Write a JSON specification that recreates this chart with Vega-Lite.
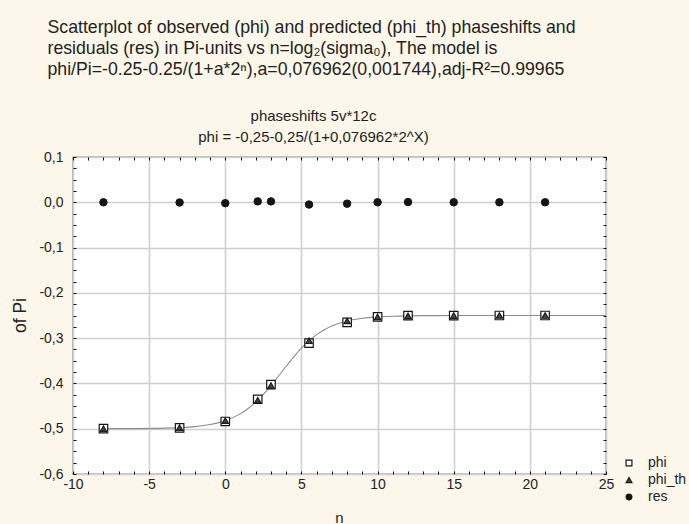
{
  "$schema": "https://vega.github.io/schema/vega-lite/v6.json",
  "autosize": "none",
  "width": 533,
  "height": 317,
  "padding": {"left": 73, "top": 157, "right": 83, "bottom": 50},
  "background": "#fdf7eb",
  "config": {
    "font": "Liberation Sans",
    "view": {"fill": "#ffffff", "stroke": "#111111", "strokeWidth": 1.2}
  },
  "title": {
    "text": [
      "Scatterplot of observed (phi) and predicted (phi_th) phaseshifts and",
      "residuals (res) in Pi-units vs n=log₂(sigma₀), The model is",
      "phi/Pi=-0.25-0.25/(1+a*2ⁿ),a=0,076962(0,001744),adj-R²=0.99965"
    ],
    "anchor": "start",
    "frame": "group",
    "font": "Liberation Sans",
    "fontSize": 17.7,
    "fontWeight": "normal",
    "color": "#222222",
    "lineHeight": 21,
    "dx": -25.5,
    "offset": 30
  },
  "datasets": {
    "fit": [
      {"n": -8, "phi": -0.4999},
      {"n": -6, "phi": -0.4997},
      {"n": -4, "phi": -0.4988},
      {"n": -2, "phi": -0.4953},
      {"n": -1, "phi": -0.4907},
      {"n": 0, "phi": -0.4821},
      {"n": 1, "phi": -0.4667},
      {"n": 1.5, "phi": -0.4553},
      {"n": 2, "phi": -0.4412},
      {"n": 2.5, "phi": -0.4242},
      {"n": 3, "phi": -0.4047},
      {"n": 3.5, "phi": -0.3836},
      {"n": 4, "phi": -0.362},
      {"n": 4.5, "phi": -0.3412},
      {"n": 5, "phi": -0.3222},
      {"n": 5.5, "phi": -0.3058},
      {"n": 6, "phi": -0.2922},
      {"n": 6.5, "phi": -0.2814},
      {"n": 7, "phi": -0.273},
      {"n": 8, "phi": -0.2621},
      {"n": 9, "phi": -0.2562},
      {"n": 10, "phi": -0.2531},
      {"n": 11, "phi": -0.2516},
      {"n": 12, "phi": -0.2508},
      {"n": 14, "phi": -0.2502},
      {"n": 17, "phi": -0.25},
      {"n": 25, "phi": -0.25}
    ],
    "points": [
      {"n": -8, "series": "phi", "value": -0.5},
      {"n": -3, "series": "phi", "value": -0.498},
      {"n": 0, "series": "phi", "value": -0.484},
      {"n": 2.13, "series": "phi", "value": -0.435},
      {"n": 3, "series": "phi", "value": -0.4027},
      {"n": 5.5, "series": "phi", "value": -0.311},
      {"n": 8, "series": "phi", "value": -0.265},
      {"n": 10, "series": "phi", "value": -0.253},
      {"n": 12, "series": "phi", "value": -0.2503},
      {"n": 15, "series": "phi", "value": -0.2501},
      {"n": 18, "series": "phi", "value": -0.25},
      {"n": 21, "series": "phi", "value": -0.25},
      {"n": -8, "series": "phi_th", "value": -0.4999},
      {"n": -3, "series": "phi_th", "value": -0.4976},
      {"n": 0, "series": "phi_th", "value": -0.4821},
      {"n": 2.13, "series": "phi_th", "value": -0.437},
      {"n": 3, "series": "phi_th", "value": -0.4047},
      {"n": 5.5, "series": "phi_th", "value": -0.3058},
      {"n": 8, "series": "phi_th", "value": -0.2621},
      {"n": 10, "series": "phi_th", "value": -0.2531},
      {"n": 12, "series": "phi_th", "value": -0.2508},
      {"n": 15, "series": "phi_th", "value": -0.2501},
      {"n": 18, "series": "phi_th", "value": -0.25},
      {"n": 21, "series": "phi_th", "value": -0.25},
      {"n": -8, "series": "res", "value": 0.0},
      {"n": -3, "series": "res", "value": -0.0005},
      {"n": 0, "series": "res", "value": -0.002},
      {"n": 2.13, "series": "res", "value": 0.002},
      {"n": 3, "series": "res", "value": 0.002},
      {"n": 5.5, "series": "res", "value": -0.005},
      {"n": 8, "series": "res", "value": -0.003},
      {"n": 10, "series": "res", "value": 0.0},
      {"n": 12, "series": "res", "value": 0.0005},
      {"n": 15, "series": "res", "value": 0.0},
      {"n": 18, "series": "res", "value": 0.0},
      {"n": 21, "series": "res", "value": 0.0}
    ]
  },
  "resolve": {"axis": {"x": "independent", "y": "independent"}},
  "layer": [
    {
      "data": {"name": "fit"},
      "mark": {"type": "line", "color": "#8c8c8c", "strokeWidth": 1.1, "interpolate": "monotone"},
      "encoding": {
        "x": {
          "field": "n", "type": "quantitative",
          "scale": {"domain": [-10, 25], "nice": false, "zero": false},
          "axis": {
            "orient": "bottom",
            "values": [-10,-9,-8,-7,-6,-5,-4,-3,-2,-1,0,1,2,3,4,5,6,7,8,9,10,11,12,13,14,15,16,17,18,19,20,21,22,23,24,25],
            "labelExpr": "datum.value % 5 === 0 ? datum.value : ''",
            "labelFlush": false, "labelOverlap": false,
            "labelFont": "Liberation Sans", "labelFontSize": 14, "labelColor": "#222222",
            "labelPadding": 6,
            "tickSize": -3, "tickColor": "#111111", "tickWidth": 1,
            "domain": false,
            "grid": true, "gridColor": "#cfcfcf", "gridWidth": 1.6,
            "gridOpacity": {"condition": {"test": "datum.value % 5 === 0", "value": 1}, "value": 0},
            "title": "n", "titleFont": "Liberation Sans", "titleFontSize": 15, "titleFontWeight": "normal", "titleColor": "#222222",
            "titleX": 266, "titleY": 43, "titleBaseline": "middle"
          }
        },
        "y": {
          "field": "phi", "type": "quantitative",
          "scale": {"domain": [-0.6, 0.1], "nice": false, "zero": false},
          "axis": {
            "orient": "left",
            "values": [-0.6,-0.575,-0.55,-0.525,-0.5,-0.475,-0.45,-0.425,-0.4,-0.375,-0.35,-0.325,-0.3,-0.275,-0.25,-0.225,-0.2,-0.175,-0.15,-0.125,-0.1,-0.075,-0.05,-0.025,0,0.025,0.05,0.075,0.1],
            "labelExpr": "abs(datum.value*10 - round(datum.value*10)) < 0.001 ? replace(replace(format(datum.value, '.1f'), '.', ','), '\u2212', '-') : ''",
            "labelFlush": false, "labelOverlap": false,
            "labelFont": "Liberation Sans", "labelFontSize": 14, "labelColor": "#222222",
            "labelPadding": 13,
            "tickSize": -3, "tickColor": "#111111", "tickWidth": 1,
            "domain": false,
            "grid": true, "gridColor": "#cfcfcf", "gridWidth": 1.6,
            "gridOpacity": {"condition": {"test": "abs(datum.value*10 - round(datum.value*10)) < 0.001", "value": 1}, "value": 0},
            "title": "of Pi", "titleFont": "Liberation Sans", "titleFontSize": 17.5, "titleFontWeight": "normal", "titleColor": "#222222",
            "titleX": -53, "titleY": 158, "titleBaseline": "middle", "titleAngle": -90
          }
        }
      }
    },
    {
      "data": {"name": "points"},
      "transform": [{"filter": "datum.series === 'phi'"}],
      "mark": {"type": "point", "filled": false, "opacity": 1, "strokeWidth": 1.2, "size": 72},
      "encoding": {
        "x": {
          "field": "n", "type": "quantitative",
          "axis": {
            "orient": "top",
            "values": [-10,-9,-8,-7,-6,-5,-4,-3,-2,-1,0,1,2,3,4,5,6,7,8,9,10,11,12,13,14,15,16,17,18,19,20,21,22,23,24,25],
            "labels": false, "domain": false, "grid": false,
            "tickSize": -3, "tickColor": "#111111", "tickWidth": 1,
            "title": ["phaseshifts 5v*12c", "phi = -0,25-0,25/(1+0,076962*2^X)"],
            "titleFont": "Liberation Sans", "titleFontSize": 15, "titleFontWeight": "normal", "titleColor": "#222222",
            "titleLineHeight": 20.5, "titleX": 240, "titleY": -36.3, "titleBaseline": "alphabetic", "titleAlign": "center"
          }
        },
        "y": {
          "field": "value", "type": "quantitative",
          "axis": {
            "orient": "right",
            "values": [-0.6,-0.575,-0.55,-0.525,-0.5,-0.475,-0.45,-0.425,-0.4,-0.375,-0.35,-0.325,-0.3,-0.275,-0.25,-0.225,-0.2,-0.175,-0.15,-0.125,-0.1,-0.075,-0.05,-0.025,0,0.025,0.05,0.075,0.1],
            "labels": false, "domain": false, "grid": false, "title": null,
            "tickSize": -3, "tickColor": "#111111", "tickWidth": 1
          }
        },
        "shape": {
          "field": "series", "type": "nominal",
          "scale": {"domain": ["phi", "phi_th", "res"], "range": ["square", "triangle-up", "circle"]},
          "legend": {
            "orient": "none", "legendX": 549, "legendY": 299, "title": null,
            "labelFont": "Liberation Sans", "labelFontSize": 14, "labelColor": "#222222",
            "rowPadding": 3, "labelOffset": 12, "symbolStrokeWidth": 1.2, "symbolSize": 34
          }
        },
        "fill": {
          "field": "series", "type": "nominal",
          "scale": {"domain": ["phi", "phi_th", "res"], "range": ["#ffffff", "#444444", "#151515"]}
        },
        "stroke": {
          "field": "series", "type": "nominal",
          "scale": {"domain": ["phi", "phi_th", "res"], "range": ["#151515", "#1c1c1c", "#151515"]}
        }
      }
    },
    {
      "data": {"name": "points"},
      "transform": [{"filter": "datum.series === 'phi_th'"}],
      "mark": {"type": "point", "filled": false, "opacity": 1, "strokeWidth": 1.2, "size": 40},
      "encoding": {
        "x": {"field": "n", "type": "quantitative", "axis": null},
        "y": {"field": "value", "type": "quantitative", "axis": null},
        "shape": {"field": "series", "type": "nominal"},
        "fill": {"field": "series", "type": "nominal"},
        "stroke": {"field": "series", "type": "nominal"}
      }
    },
    {
      "data": {"name": "points"},
      "transform": [{"filter": "datum.series === 'res'"}],
      "mark": {"type": "point", "filled": false, "opacity": 1, "strokeWidth": 1, "size": 56},
      "encoding": {
        "x": {"field": "n", "type": "quantitative", "axis": null},
        "y": {"field": "value", "type": "quantitative", "axis": null},
        "shape": {"field": "series", "type": "nominal"},
        "fill": {"field": "series", "type": "nominal"},
        "stroke": {"field": "series", "type": "nominal"}
      }
    }
  ]
}
